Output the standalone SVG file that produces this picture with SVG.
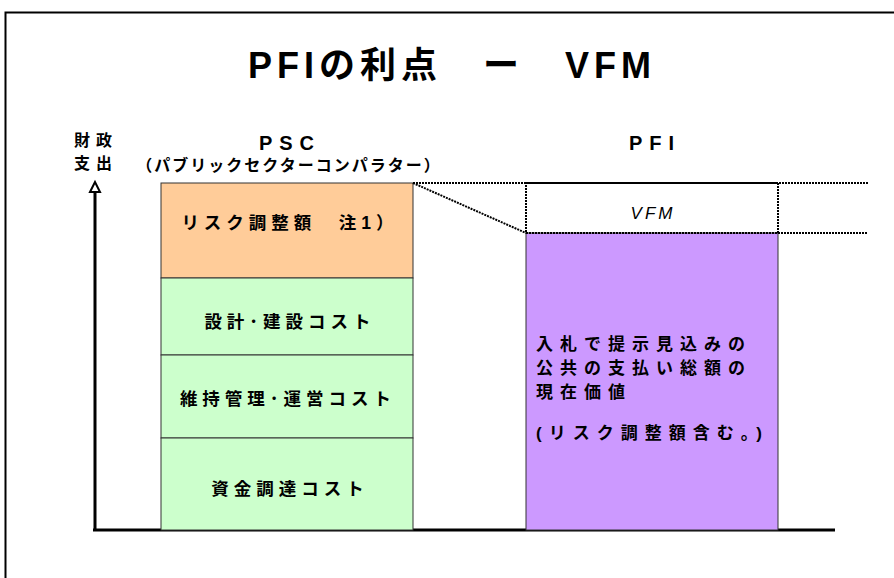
<svg xmlns="http://www.w3.org/2000/svg" width="894" height="578" viewBox="0 0 894 578">
<style>
text{font-family:"Liberation Sans","Noto Sans CJK JP",sans-serif;font-weight:bold;fill:#000}
.lbl{font-size:17.5px;letter-spacing:5px;text-anchor:middle}
.pfi{font-size:17px;letter-spacing:7px}
.bar{stroke:#333;stroke-width:1}
.dot{fill:none;stroke:#000;stroke-width:2;stroke-dasharray:2 1}
</style>
<rect x="0" y="0" width="894" height="578" fill="#fff"/>
<path d="M5.5,580 V12.5 H900" fill="none" stroke="#000" stroke-width="2"/>
<text x="452" y="78" font-size="36" text-anchor="middle" letter-spacing="5">PFIの利点　ー　VFM</text>
<g id="axis">
<line x1="95" y1="530" x2="95" y2="192" stroke="#000" stroke-width="3"/>
<path d="M90,192 L95,182 L100,192 Z" fill="#fff" stroke="#000" stroke-width="2" stroke-linejoin="miter"/>
<line x1="93" y1="530" x2="835" y2="530" stroke="#000" stroke-width="3"/>
<text x="96" y="146" font-size="16" text-anchor="middle" letter-spacing="6">財政</text>
<text x="96" y="169" font-size="16" text-anchor="middle" letter-spacing="6">支出</text>
</g>
<text x="290" y="150" font-size="20" text-anchor="middle" letter-spacing="7">PSC</text>
<text x="289" y="171" font-size="16" text-anchor="middle" letter-spacing="2">（パブリックセクターコンパラター）</text>
<text x="655" y="150" font-size="20" text-anchor="middle" letter-spacing="7">PFI</text>
<g id="risk">
<rect class="bar" x="161" y="183" width="252" height="95" fill="#ffcc99"/>
<text class="lbl" x="290" y="229">リスク調整額　注1）</text>
</g>
<g id="design">
<rect class="bar" x="161" y="278" width="252" height="77" fill="#ccffcc"/>
<text class="lbl" x="290" y="328">設計･建設コスト</text>
</g>
<g id="maint">
<rect class="bar" x="161" y="355" width="252" height="83" fill="#ccffcc"/>
<text class="lbl" x="288" y="405">維持管理･運営コスト</text>
</g>
<g id="finance">
<rect class="bar" x="161" y="438" width="252" height="92" fill="#ccffcc"/>
<text class="lbl" x="290" y="495">資金調達コスト</text>
</g>
<g id="pfi">
<rect class="bar" x="526" y="233" width="252" height="297" fill="#cc99ff"/>
<text class="pfi" x="536" y="350">入札で提示見込みの</text>
<text class="pfi" x="536" y="374">公共の支払い総額の</text>
<text class="pfi" x="536" y="398">現在価値</text>
<text class="pfi" x="536" y="439">(リスク調整額含む。)</text>
</g>
<g id="vfm">
<rect class="dot" x="526" y="183" width="252" height="50" fill="#fff"/>
<text x="653" y="219" font-size="17" text-anchor="middle" font-style="italic" letter-spacing="3" style="font-weight:normal">VFM</text>
</g>
<g id="connectors">
<line class="dot" x1="413" y1="183" x2="868" y2="183"/>
<line class="dot" x1="778" y1="233" x2="868" y2="233"/>
<line class="dot" x1="413" y1="183" x2="526" y2="233"/>
</g>
</svg>
